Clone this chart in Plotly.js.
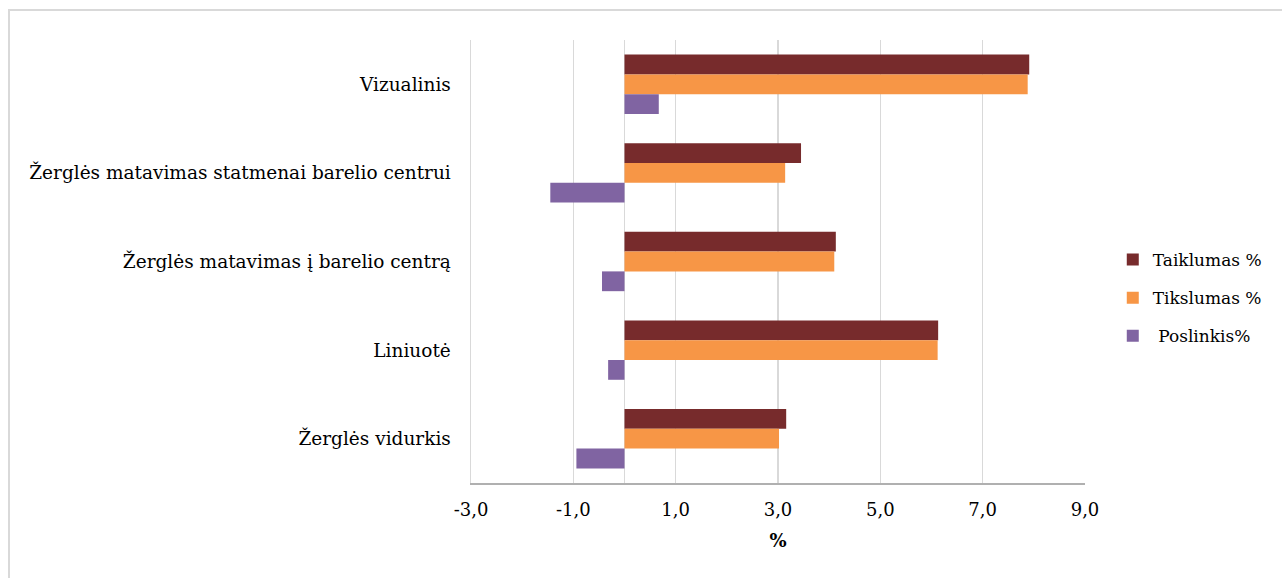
<!DOCTYPE html>
<html>
<head>
<meta charset="utf-8">
<script src="https://cdn.plot.ly/plotly-3.0.1.min.js"></script>
<style>
  html, body { margin: 0; padding: 0; background: #ffffff; }
  #frame { position: absolute; left: 8px; top: 9px; width: 1300px; height: 600px;
           border: 2px solid #d9d9d9; box-sizing: border-box; }
  #chart { position: absolute; left: 0; top: 0; width: 1282px; height: 578px; }
</style>
</head>
<body>
<div id="frame"></div>
<div id="chart"></div>
<script>
// Measurement methods, listed top to bottom
const categories = [
  'Vizualinis',
  'Žerglės matavimas statmenai barelio centrui',
  'Žerglės matavimas į barelio centrą',
  'Liniuotė',
  'Žerglės vidurkis'
];

// Values in percent
const taiklumas = [7.91, 3.45, 4.13, 6.13, 3.16];
const tikslumas = [7.88, 3.14, 4.10, 6.12, 3.02];
const poslinkis = [0.67, -1.45, -0.44, -0.32, -0.94];

// Axis ticks (comma decimals, plain hyphen minus)
const xTickVals = [-3, -1, 1, 3, 5, 7, 9];
const xTickText = ['-3,0', '-1,0', '1,0', '3,0', '5,0', '7,0', '9,0'];

const seriesNames = ['Taiklumas %', 'Tikslumas %', '\u00a0Poslinkis%'];
const seriesColors = ['#772b2c', '#f79646', '#8064a2'];

const font = 'DejaVu Serif';

const traces = [taiklumas, tikslumas, poslinkis].map((vals, i) => ({
  type: 'bar',
  orientation: 'h',
  y: categories,
  x: vals,
  name: seriesNames[i],
  legendgroup: 'g' + i,
  marker: { color: seriesColors[i], line: { width: 0 } },
  hoverinfo: 'x+name'
}));

const layout = {
  width: 1282,
  height: 578,
  margin: { l: 471, r: 197, t: 40, b: 95 },
  paper_bgcolor: 'rgba(0,0,0,0)',
  plot_bgcolor: 'rgba(0,0,0,0)',
  barmode: 'group',
  bargap: 0.33,
  bargroupgap: 0,
  font: { family: font, size: 18, color: '#000000' },
  xaxis: {
    range: [-3, 9],
    tickmode: 'array',
    tickvals: xTickVals,
    ticktext: xTickText,
    showgrid: true,
    gridcolor: '#d9d9d9',
    gridwidth: 1.5,
    zeroline: true,
    zerolinecolor: '#d9d9d9',
    zerolinewidth: 1.5,
    showline: true,
    linecolor: '#b0b0b0',
    linewidth: 1.5,
    ticks: 'outside',
    ticklen: 10,
    tickcolor: 'rgba(0,0,0,0)',
    tickfont: { family: font, size: 18, color: '#000000' },
    title: { text: '<b>%</b>', font: { family: font, size: 18, color: '#000000' }, standoff: 15 },
    fixedrange: true
  },
  yaxis: {
    type: 'category',
    autorange: 'reversed',
    showgrid: false,
    zeroline: false,
    showline: true,
    linecolor: '#d9d9d9',
    linewidth: 1.5,
    ticks: 'outside',
    ticklen: 15,
    tickcolor: 'rgba(0,0,0,0)',
    tickfont: { family: font, size: 18.5, color: '#000000' },
    fixedrange: true
  },
  legend: {
    xref: 'container',
    yref: 'container',
    x: 0.868,
    xanchor: 'left',
    y: 0.4844,
    yanchor: 'middle',
    traceorder: 'grouped',
    font: { family: font, size: 17, color: '#000000' },
    itemwidth: 30,
    tracegroupgap: 13,
    bgcolor: 'rgba(0,0,0,0)'
  },
  showlegend: true
};

Plotly.newPlot('chart', traces, layout, { displayModeBar: false, staticPlot: true });
</script>
</body>
</html>
